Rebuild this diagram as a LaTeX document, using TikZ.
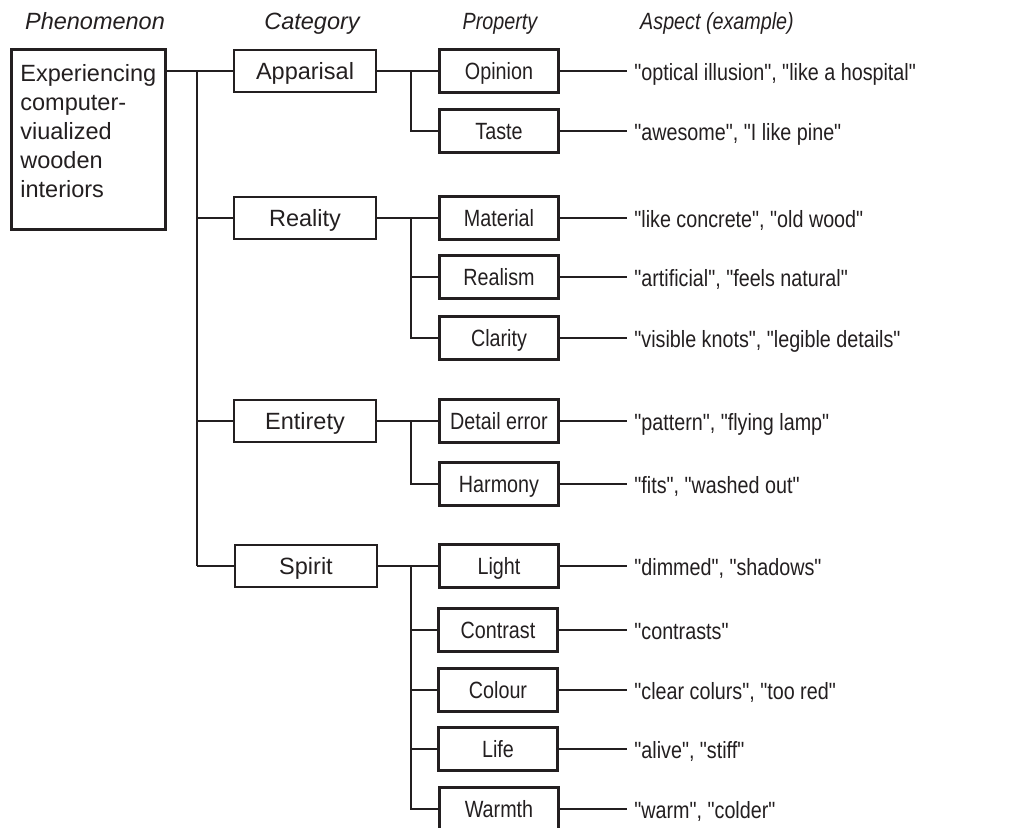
\documentclass[tikz,border=0pt]{standalone}
\usepackage{fontspec}
\setmainfont{Liberation Sans}
\newfontfamily\narrowfont[FakeStretch=0.84]{Liberation Sans}
\usepackage{tikz}
\definecolor{ink}{RGB}{35,31,32}

\begin{document}
\begin{tikzpicture}[x=0.5pt,y=-0.5pt,line width=1.4pt,color=ink,
  every node/.style={font=\fontsize{11.75}{14.5}\selectfont},
  head/.style={font=\fontsize{11.75}{14.5}\selectfont\itshape,anchor=base},
  narrowhead/.style={font=\fontsize{11.75}{14.5}\narrowfont\itshape,anchor=base},
  catbox/.style={draw,minimum width=71pt,minimum height=21pt,inner sep=0pt,text height=8.4pt,text depth=0pt},
  propbox/.style={draw,minimum width=59.5pt,minimum height=21.5pt,inner sep=0pt,text height=8.4pt,text depth=0pt,font=\fontsize{11.75}{14.5}\narrowfont},
  aspect/.style={anchor=west,inner xsep=3pt,text height=8.4pt,text depth=0pt,font=\fontsize{11.75}{14.5}\narrowfont}]
\useasboundingbox (0,0) rectangle (1026,828);

\node[head] (phenhead) at (95,30) {Phenomenon};
\node[head] (cathead) at (312,30) {Category};
\node[narrowhead] (prophead) at (500,30) {Property};
\node[narrowhead] (asphead) at (717,30) {Aspect (example)};

\node[draw,anchor=north west,inner xsep=4.5pt,inner ysep=6pt] (phen) at (10,48)
  {\parbox[t][78pt][t]{68pt}{\strut Experiencing\\computer-\\viualized\\wooden\\interiors}};

\node[catbox] (app) at (305,71) {Apparisal};
\node[catbox] (real) at (305,218) {Reality};
\node[catbox] (ent) at (305,421) {Entirety};
\node[catbox] (spir) at (306,566) {Spirit};

\node[propbox] (opin) at (499,71) {Opinion};
\node[propbox] (taste) at (499,131) {Taste};
\node[propbox] (mat) at (499,218) {Material};
\node[propbox] (realism) at (499,277) {Realism};
\node[propbox] (clar) at (499,338) {Clarity};
\node[propbox] (det) at (499,421) {Detail error};
\node[propbox] (harm) at (499,484) {Harmony};
\node[propbox] (light) at (499,566) {Light};
\node[propbox] (contr) at (498,630) {Contrast};
\node[propbox] (col) at (498,690) {Colour};
\node[propbox] (life) at (498,749) {Life};
\node[propbox] (warm) at (499,809) {Warmth};

\node[aspect] (aopin) at (627,72) {"optical illusion", "like a hospital"};
\node[aspect] (ataste) at (627,132) {"awesome", "I like pine"};
\node[aspect] (amat) at (627,219) {"like concrete", "old wood"};
\node[aspect] (arealism) at (627,278) {"artificial", "feels natural"};
\node[aspect] (aclar) at (627,339) {"visible knots", "legible details"};
\node[aspect] (adet) at (627,422) {"pattern", "flying lamp"};
\node[aspect] (aharm) at (627,485) {"fits", "washed out"};
\node[aspect] (alight) at (627,567) {"dimmed", "shadows"};
\node[aspect] (acontr) at (627,631) {"contrasts"};
\node[aspect] (acol) at (627,691) {"clear colurs", "too red"};
\node[aspect] (alife) at (627,750) {"alive", "stiff"};
\node[aspect] (awarm) at (627,810) {"warm", "colder"};

\coordinate (ctrunk) at (197,71);
\coordinate (ptrunk) at (411,71);

\draw (phen.east |- app.west) -- (app.west);
\draw (app.west -| ctrunk) -- (spir.west -| ctrunk);
\draw (real.west -| ctrunk) -- (real.west);
\draw (ent.west -| ctrunk) -- (ent.west);
\draw (spir.west -| ctrunk) -- (spir.west);

\draw (app.east) -- (opin.west);
\draw (app.east -| ptrunk) |- (taste.west);
\draw (real.east) -- (mat.west);
\draw (real.east -| ptrunk) |- (clar.west);
\draw (realism.west -| ptrunk) -- (realism.west);
\draw (ent.east) -- (det.west);
\draw (ent.east -| ptrunk) |- (harm.west);
\draw (spir.east) -- (light.west);
\draw (spir.east -| ptrunk) |- (warm.west);
\draw (contr.west -| ptrunk) -- (contr.west);
\draw (col.west -| ptrunk) -- (col.west);
\draw (life.west -| ptrunk) -- (life.west);

\draw (opin.east) -- (opin.east -| aopin.west);
\draw (taste.east) -- (taste.east -| ataste.west);
\draw (mat.east) -- (mat.east -| amat.west);
\draw (realism.east) -- (realism.east -| arealism.west);
\draw (clar.east) -- (clar.east -| aclar.west);
\draw (det.east) -- (det.east -| adet.west);
\draw (harm.east) -- (harm.east -| aharm.west);
\draw (light.east) -- (light.east -| alight.west);
\draw (contr.east) -- (contr.east -| acontr.west);
\draw (col.east) -- (col.east -| acol.west);
\draw (life.east) -- (life.east -| alife.west);
\draw (warm.east) -- (warm.east -| awarm.west);
\end{tikzpicture}
\end{document}
